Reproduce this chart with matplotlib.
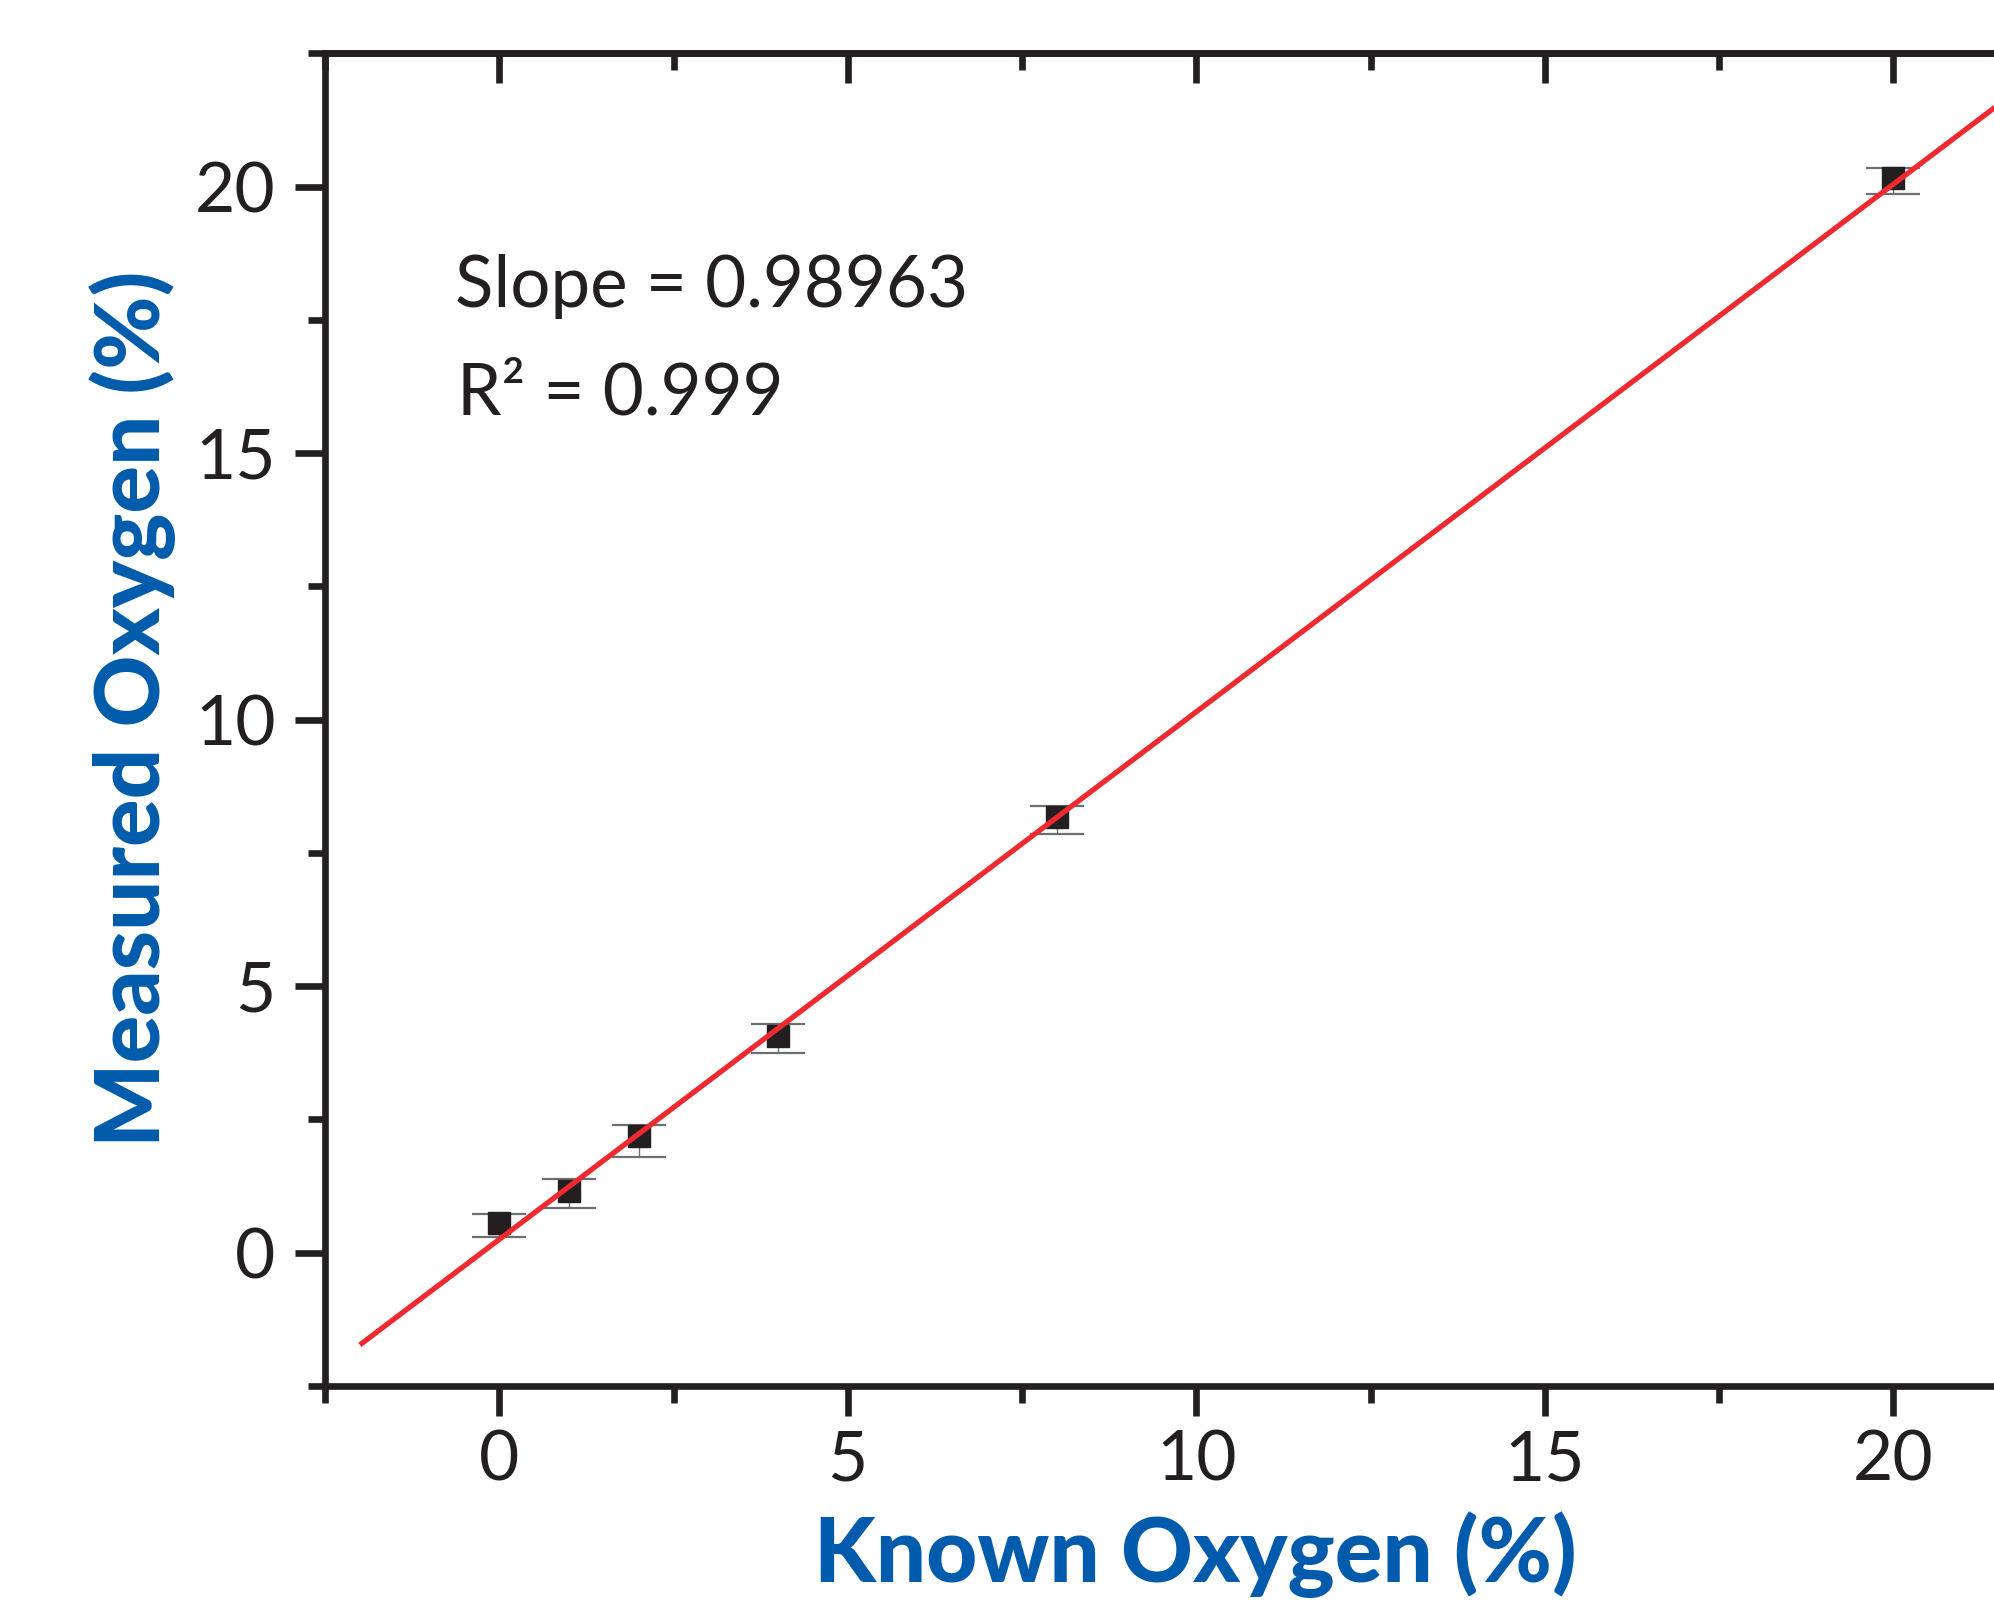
import matplotlib
matplotlib.use('Agg')
import matplotlib.pyplot as plt
from matplotlib.ticker import MultipleLocator
import numpy as np

# data
known = [0, 1, 2, 4, 8, 20]
measured = [0.56, 1.16, 2.19, 4.07, 8.18, 20.16]
err_low = [0.27, 0.33, 0.39, 0.33, 0.33, 0.30]
err_high = [0.16, 0.22, 0.20, 0.22, 0.20, 0.19]

slope = 0.98963
intercept = 0.25
fit_x = [-2, 22.5]

DARK = '#231f20'
BLUE = '#005bac'
RED = '#ec2a2f'

plt.rcParams['font.family'] = ['Lato', 'DejaVu Sans']

fig = plt.figure(figsize=(19.94, 16.03), dpi=100)
W, H = 1994, 1603
ax = fig.add_axes([325 / W, (H - 1386) / H, 1742.5 / W, 1332.7 / H])

ax.errorbar(known, measured, yerr=[err_low, err_high], fmt='s',
            ms=15.6, mfc=DARK, mec=DARK, ecolor='#6d6e71',
            elinewidth=1.0, capsize=19.5, capthick=1.6, zorder=2)

fx = np.array(fit_x)
ax.plot(fx, slope * fx + intercept, color=RED, lw=3.8, zorder=3,
        solid_capstyle='butt')

ax.set_xlim(-2.5, 22.5)
ax.set_ylim(-2.5, 22.5)
ax.xaxis.set_major_locator(MultipleLocator(5))
ax.xaxis.set_minor_locator(MultipleLocator(2.5))
ax.yaxis.set_major_locator(MultipleLocator(5))
ax.yaxis.set_minor_locator(MultipleLocator(2.5))

for s in ax.spines.values():
    s.set_linewidth(4.8)
    s.set_color(DARK)

ax.tick_params(axis='both', which='both', direction='out', width=4.8,
               color=DARK, top=False, right=False)
ax.tick_params(axis='both', which='major', length=21.6)
ax.tick_params(axis='both', which='minor', length=12)
ax.tick_params(axis='x', which='major', labelsize=50, labelcolor=DARK, pad=10)
ax.tick_params(axis='y', which='major', labelsize=50, labelcolor=DARK, pad=14)

# top ticks point inward
top = ax.secondary_xaxis('top')
top.xaxis.set_major_locator(MultipleLocator(5))
top.xaxis.set_minor_locator(MultipleLocator(2.5))
top.spines['top'].set_linewidth(4.8)
top.spines['top'].set_color(DARK)
top.tick_params(axis='x', which='both', direction='in', width=4.8,
                color=DARK, labeltop=False)
top.tick_params(axis='x', which='major', length=21.6)
top.tick_params(axis='x', which='minor', length=12)

ax.text(-0.64, 17.74, 'Slope = 0.98963', fontsize=51, color=DARK,
        ha='left', va='baseline')
ax.text(-0.60, 15.73, 'R\u00b2 = 0.999', fontsize=51, color=DARK,
        ha='left', va='baseline')

fig.text(1195 / W, (H - 1582) / H, 'Known Oxygen (%)', fontsize=64,
         fontweight='black', color=BLUE, ha='center', va='baseline')
fig.text(160 / W, (H - 709) / H, 'Measured Oxygen (%)', fontsize=64,
         fontweight='black', color=BLUE, ha='center', va='baseline',
         rotation=90, rotation_mode='anchor')

fig.savefig('out.png', dpi=100)
